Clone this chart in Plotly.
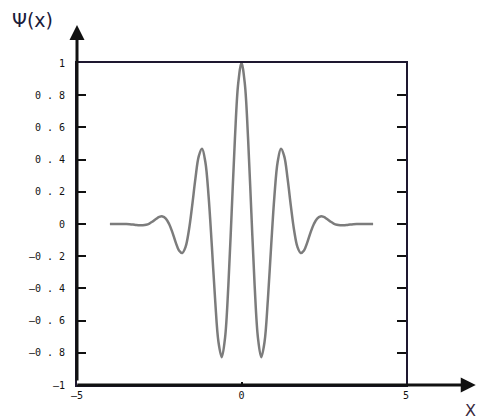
import plotly.graph_objects as go

# Values (x from -4 to 4, step 0.1)
x_vals = [round(-4 + 0.1 * i, 1) for i in range(81)]
half = [1.000, 0.873, 0.530, 0.068, -0.384, -0.707, -0.827, -0.733, -0.475, -0.141,
        0.172, 0.387, 0.467, 0.420, 0.283, 0.113, -0.040, -0.142, -0.180, -0.164,
        -0.114, -0.052, 0.000, 0.034, 0.047, 0.044, 0.031, 0.016, 0.003, -0.005,
        -0.008, -0.008, -0.006, -0.003, -0.001, 0.000, 0.000, 0.000, 0.000, 0.000, 0.000]
psi_vals = half[:0:-1] + half

y_ticks = [1, 0.8, 0.6, 0.4, 0.2, 0, -0.2, -0.4, -0.6, -0.8, -1]
y_tick_labels = ["1", "0 . 8", "0 . 6", "0 . 4", "0 . 2", "0",
                 "—0 . 2", "—0 . 4", "—0 . 6", "—0 . 8", "—1"]
x_ticks = [-5, 0, 5]
x_tick_labels = ["—5", "0", "5"]

AX = "#1e1830"

fig = go.Figure()
fig.add_trace(go.Scatter(x=x_vals, y=psi_vals, mode="lines",
                         line=dict(color="#7c7c7c", width=2.5, shape="spline"),
                         showlegend=False, hoverinfo="skip"))

tickfont = dict(family="DejaVu Sans Mono", size=10, color="#111")
fig.update_xaxes(range=[-5, 5], tickvals=x_ticks, ticktext=x_tick_labels,
                 ticks="inside", ticklen=3, tickcolor="#111", tickwidth=2,
                 showline=True, linecolor=AX, linewidth=2, mirror=True,
                 showgrid=False, zeroline=False, tickfont=tickfont,
                 ticklabelstandoff=0)
fig.update_yaxes(range=[-1, 1], tickvals=y_ticks, ticktext=y_tick_labels,
                 ticks="inside", ticklen=9, tickcolor="#111", tickwidth=1.5,
                 showline=True, linecolor=AX, linewidth=2, mirror="ticks",
                 showgrid=False, zeroline=False, tickfont=tickfont,
                 ticklabelstandoff=8)

# thick left axis with arrow pointing up
fig.add_annotation(x=0, y=1, xref="paper", yref="paper", ax=0, ay=360,
                   axref="pixel", ayref="pixel", yshift=38, showarrow=True,
                   arrowhead=2, arrowsize=1.0, arrowwidth=3, arrowcolor="#111",
                   text="", standoff=0, startstandoff=0)
# thick bottom axis with arrow pointing right
fig.add_annotation(x=1.212, y=0, xref="paper", yref="paper", ax=-400, ay=0,
                   axref="pixel", ayref="pixel", showarrow=True, arrowhead=2,
                   arrowsize=1.0, arrowwidth=3, arrowcolor="#111", text="",
                   standoff=0, startstandoff=0)

fig.add_annotation(x=-0.203, y=1.175, xref="paper", yref="paper", text="Ψ(x)",
                   showarrow=False, xanchor="left", yanchor="top",
                   font=dict(family="DejaVu Sans", size=19, color="#1a1a3a"))
fig.add_annotation(x=1.195, y=-0.045, xref="paper", yref="paper", text="X",
                   showarrow=False, xanchor="center", yanchor="top",
                   font=dict(family="DejaVu Sans", size=16, color="#3a2a40"))

fig.update_layout(width=477, height=420, margin=dict(l=77, r=71, t=63, b=35),
                  plot_bgcolor="white", paper_bgcolor="white")
fig.write_html("out.html", config={"displayModeBar": False},
               post_script="document.body.style.margin='0';")
